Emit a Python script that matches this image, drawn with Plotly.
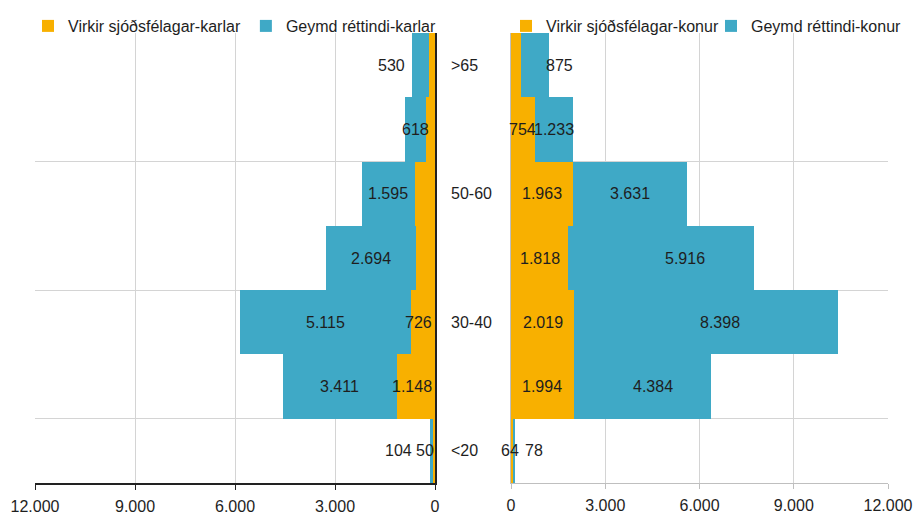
import plotly.graph_objects as go

# ---------------- data ----------------
categories = ["<20", "20-30", "30-40", "40-50", "50-60", "60-65", ">65"]
axis_category_labels = ["<20", "", "30-40", "", "50-60", "", ">65"]

men_active = [50, 1148, 726, 570, 600, 270, 170]        # Virkir sjóðsfélagar-karlar
men_deferred = [104, 3411, 5115, 2694, 1595, 618, 530]  # Geymd réttindi-karlar
women_active = [64, 1994, 2019, 1818, 1963, 754, 320]   # Virkir sjóðsfélagar-konur
women_deferred = [78, 4384, 8398, 5916, 3631, 1233, 875]  # Geymd réttindi-konur

men_active_labelled = [True, True, True, False, False, False, False]
women_active_labelled = [True, True, True, True, True, True, False]

x_tick_values = [0, 3000, 6000, 9000, 12000]
x_tick_labels = ["0", "3.000", "6.000", "9.000", "12.000"]

name_men_active = "Virkir sjóðsfélagar-karlar"
name_men_deferred = "Geymd réttindi-karlar"
name_women_active = "Virkir sjóðsfélagar-konur"
name_women_deferred = "Geymd réttindi-konur"

# ---------------- style ----------------
ORANGE = "#F8B000"
BLUE = "#3FA9C6"
GRID = "#D4D4D4"
TEXT = "#1E1E1E"
FONT = "Arial, 'Liberation Sans', sans-serif"
FS = 16

W, H = 917, 517
ML, MR, MT, MB = 35, 29, 33, 34
PW = W - ML - MR
PH = H - MT - MB
left_dom = [0, 400 / PW]
right_dom = [476 / PW, 1]

ypos = list(range(len(categories)))


def fmt(v):
    return f"{v:,}".replace(",", ".")


fig = go.Figure()

fig.add_trace(go.Bar(y=ypos, x=men_active, orientation="h", name=name_men_active,
                     marker=dict(color=ORANGE, line=dict(width=0)),
                     xaxis="x", yaxis="y", legend="legend", hoverinfo="x+name"))
fig.add_trace(go.Bar(y=ypos, x=men_deferred, orientation="h", name=name_men_deferred,
                     marker=dict(color=BLUE, line=dict(width=0)),
                     xaxis="x", yaxis="y", legend="legend", hoverinfo="x+name"))
fig.add_trace(go.Bar(y=ypos, x=women_active, orientation="h", name=name_women_active,
                     marker=dict(color=ORANGE, line=dict(width=0)),
                     xaxis="x2", yaxis="y2", legend="legend2", hoverinfo="x+name"))
fig.add_trace(go.Bar(y=ypos, x=women_deferred, orientation="h", name=name_women_deferred,
                     marker=dict(color=BLUE, line=dict(width=0)),
                     xaxis="x2", yaxis="y2", legend="legend2", hoverinfo="x+name"))

ann = []


def label(text, x, y, xref, yref, xanchor="center", xshift=0):
    ann.append(dict(text=text, x=x, y=y, xref=xref, yref=yref, xanchor=xanchor,
                    yanchor="middle", xshift=xshift, showarrow=False,
                    font=dict(family=FONT, size=FS, color=TEXT)))


last = len(categories) - 1
# left panel (men)
for i, (a, b) in enumerate(zip(men_active, men_deferred)):
    if i == 0:
        label(fmt(a), 0, i, "x", "y", "right", 1)
        label(fmt(b), 0, i, "x", "y", "right", -21)
        continue
    if i == last:
        label(fmt(b), a + b, i, "x", "y", "right", -5)
    else:
        label(fmt(b), a + b / 2, i, "x", "y")
    if men_active_labelled[i]:
        label(fmt(a), a / 2, i, "x", "y", "center", -4)

# right panel (women)
blue_nudge = {1: 10, 2: 14, 3: 24}
for i, (a, b) in enumerate(zip(women_active, women_deferred)):
    if i == 0:
        label(fmt(a), a / 2, i, "x2", "y2", "center", -2)
        label(fmt(b), a + b, i, "x2", "y2", "left", 8)
        continue
    if i == last:
        label(fmt(b), a + b, i, "x2", "y2", "left", -5)
    else:
        label(fmt(b), a + b / 2, i, "x2", "y2", "center", blue_nudge.get(i, 0))
    if women_active_labelled[i]:
        label(fmt(a), a / 2, i, "x2", "y2")

# category labels between the panels
for i, c in enumerate(axis_category_labels):
    if c:
        ann.append(dict(text=c, x=(449 - ML) / PW, y=i, xref="paper", yref="y",
                        xanchor="left", yanchor="middle", showarrow=False,
                        font=dict(family=FONT, size=FS, color=TEXT)))

grid_vals = [i + 0.5 for i in range(0, len(categories), 2)]

fig.update_layout(
    width=W, height=H,
    margin=dict(l=ML, r=MR, t=MT, b=MB, autoexpand=False),
    paper_bgcolor="white", plot_bgcolor="white",
    barmode="stack", bargap=0,
    font=dict(family=FONT, size=FS, color=TEXT),
    annotations=ann,
    xaxis=dict(domain=left_dom, range=[12000, 0], anchor="y",
               tickmode="array", tickvals=x_tick_values, ticktext=x_tick_labels,
               showgrid=True, gridcolor=GRID, gridwidth=1, zeroline=False,
               showline=True, linecolor="#222222", linewidth=1.5,
               ticks="outside", ticklen=5, tickcolor="#222222", tickwidth=1,
               ticklabelstandoff=3,
               tickfont=dict(family=FONT, size=FS, color=TEXT)),
    yaxis=dict(domain=[0, 1], range=[-0.5, 6.5], anchor="x", side="right",
               tickmode="array", tickvals=grid_vals, showticklabels=False,
               showgrid=True, gridcolor=GRID, gridwidth=1, zeroline=False,
               showline=True, linecolor="#222222", linewidth=1.5, ticks=""),
    xaxis2=dict(domain=right_dom, range=[0, 12000], anchor="y2",
                tickmode="array", tickvals=x_tick_values, ticktext=x_tick_labels,
                showgrid=True, gridcolor=GRID, gridwidth=1, zeroline=False,
                showline=True, linecolor="#BFBFBF", linewidth=1,
                ticks="outside", ticklen=5, tickcolor="#BFBFBF", tickwidth=1,
                ticklabelstandoff=3,
                tickfont=dict(family=FONT, size=FS, color=TEXT)),
    yaxis2=dict(domain=[0, 1], range=[-0.5, 6.5], anchor="x2", side="left",
                tickmode="array", tickvals=grid_vals, showticklabels=False,
                showgrid=True, gridcolor=GRID, gridwidth=1, zeroline=False,
                showline=True, linecolor="#BFBFBF", linewidth=1, ticks=""),
    legend=dict(orientation="h", x=(28 - ML) / PW, xanchor="left",
                y=1 + 24 / PH, yanchor="top",
                bgcolor="rgba(0,0,0,0)", borderwidth=0,
                font=dict(family=FONT, size=FS, color=TEXT),
                itemwidth=30, traceorder="normal"),
    legend2=dict(orientation="h", x=(506 - ML) / PW, xanchor="left",
                 y=1 + 24 / PH, yanchor="top",
                 bgcolor="rgba(0,0,0,0)", borderwidth=0,
                 font=dict(family=FONT, size=FS, color=TEXT),
                 itemwidth=30, traceorder="normal",
                 entrywidth=160, entrywidthmode="pixels"),
)

# remove the browser's default 8px body margin so the figure fills the window
fig.write_html("out.html", config={"displayModeBar": False},
               post_script="document.body.style.margin='0px';")
